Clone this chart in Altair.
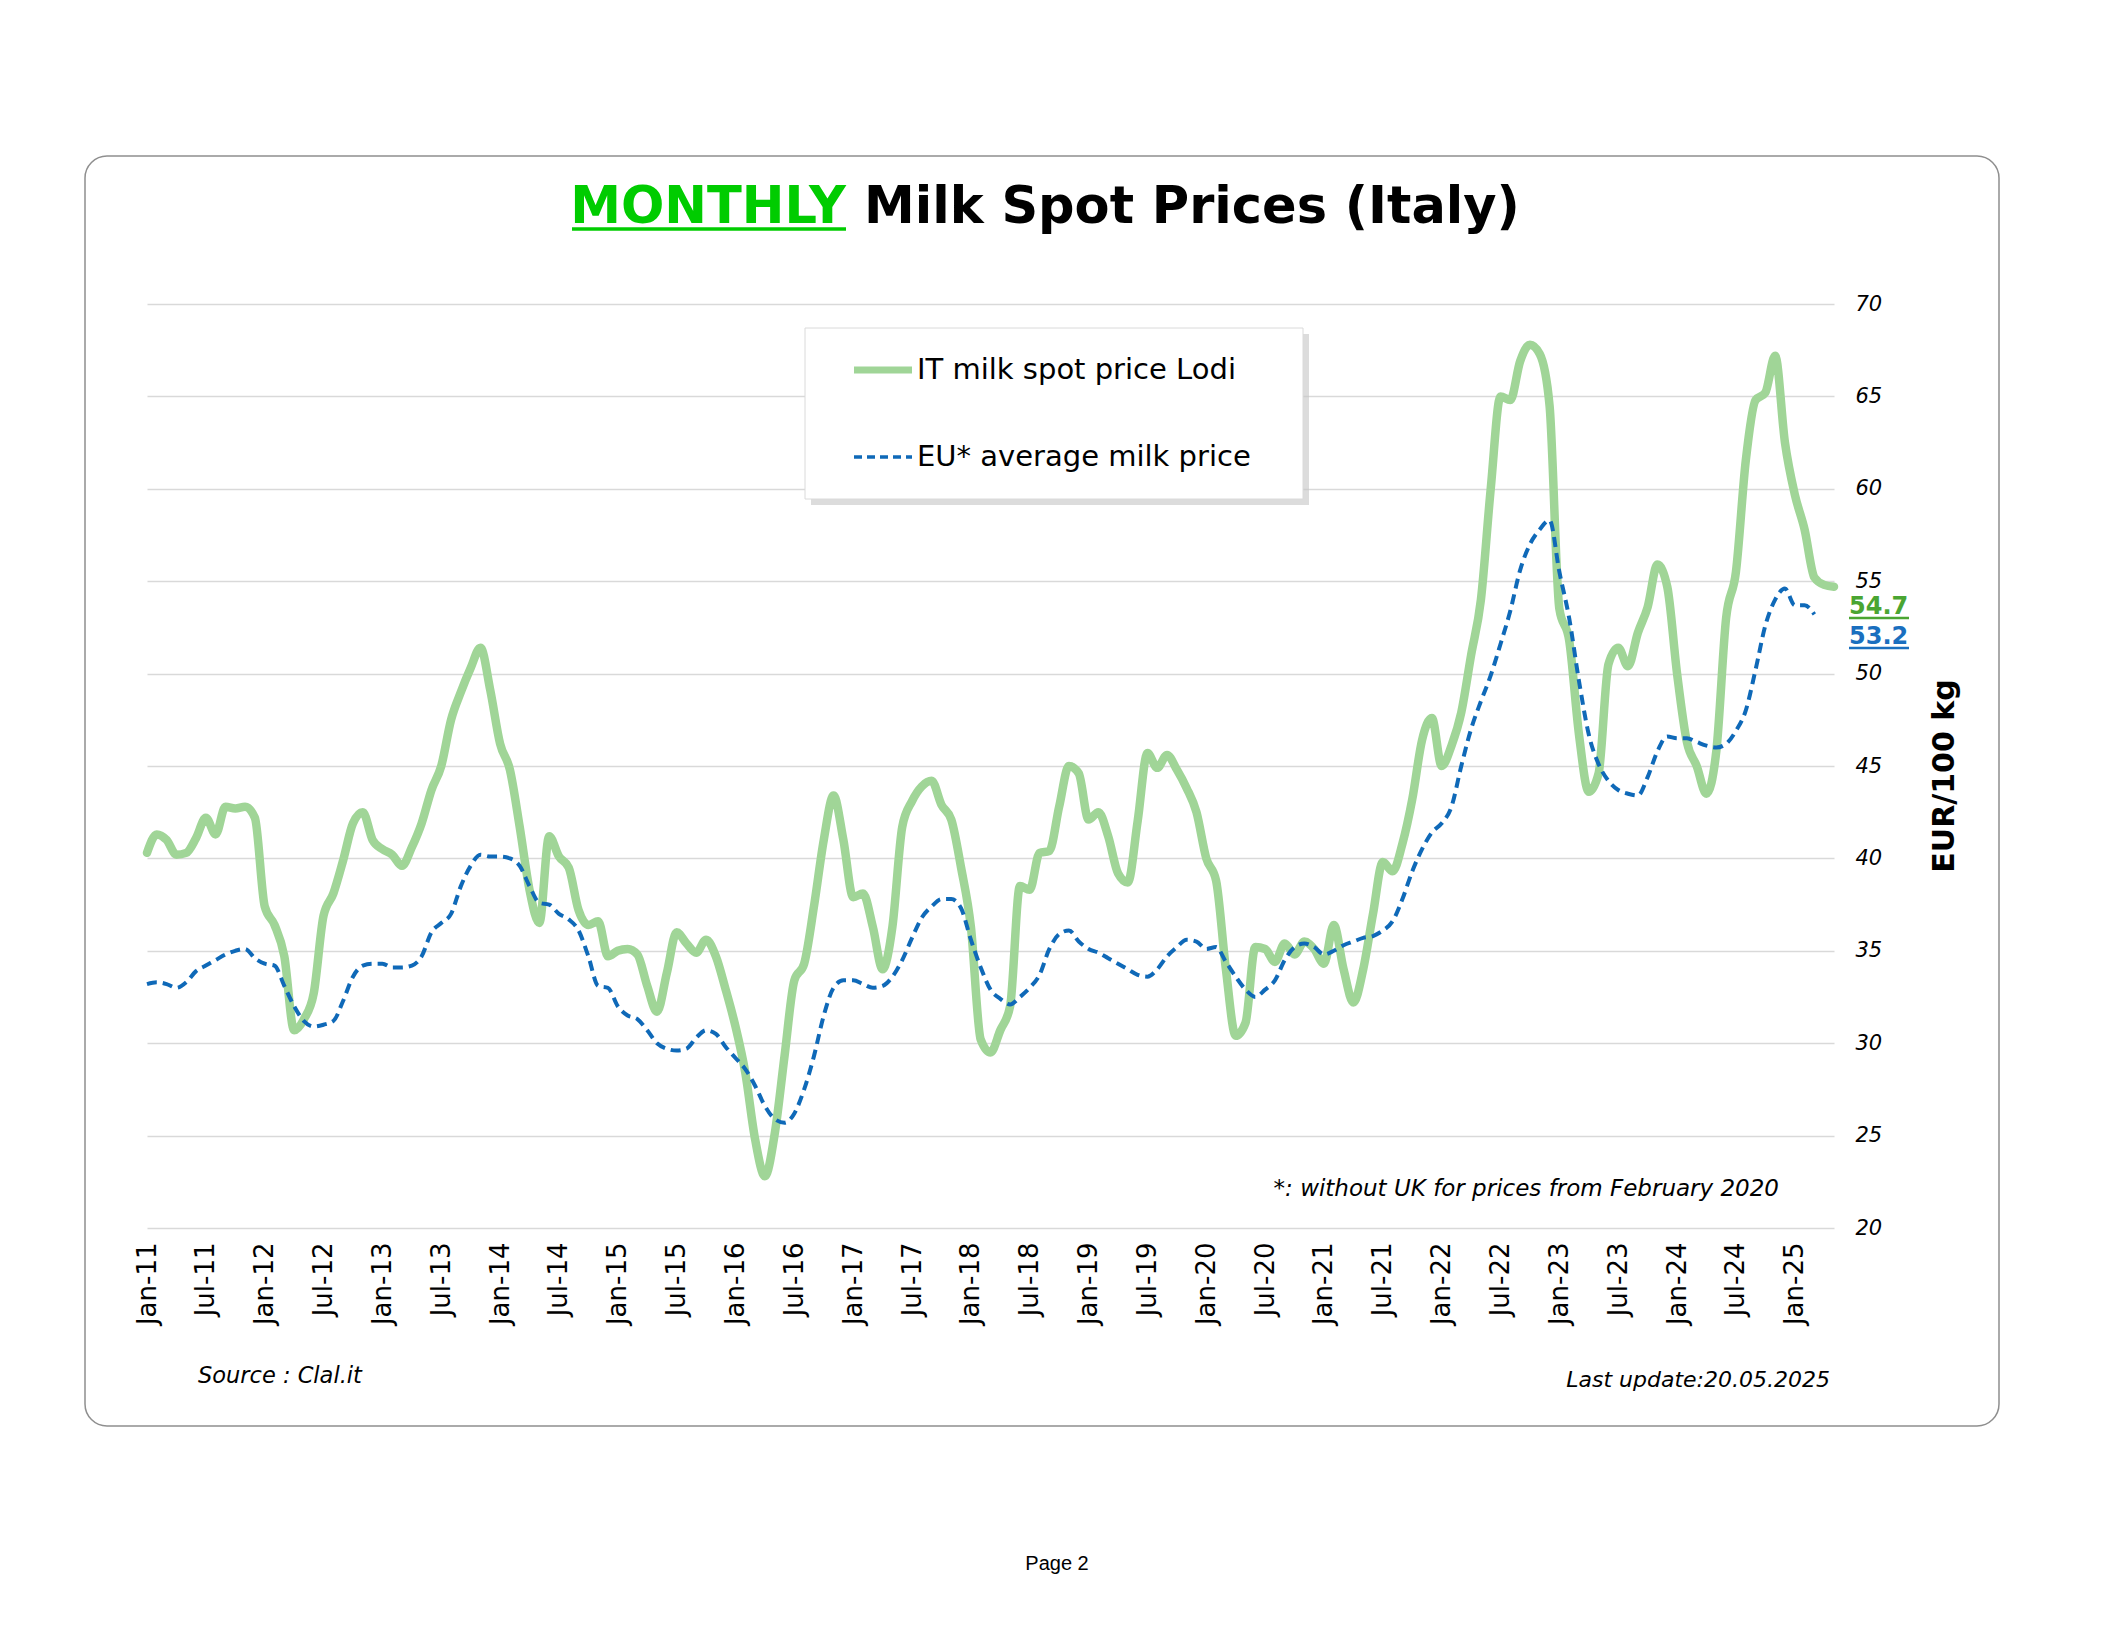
import json
import altair as alt
import pandas as pd

# ---- data (EUR/100 kg, monthly, index 0 = Jan-2011) ----
lodi_2011 = [40.3, 41.3, 41.0, 40.2, 40.3, 41.1, 42.2, 41.3, 42.8, 42.7, 42.8, 42.2]
lodi_2012 = [37.4, 36.4, 34.7, 30.7, 31.3, 32.7, 36.9, 38.1, 39.9, 41.9, 42.5, 41.0]
lodi_2013 = [40.5, 40.2, 39.6, 40.6, 41.9, 43.7, 45.0, 47.5, 49.0, 50.3, 51.4, 49.1]
lodi_2014 = [46.2, 44.8, 41.7, 38.3, 36.5, 41.2, 40.1, 39.5, 37.2, 36.4, 36.6, 34.7]
lodi_2015 = [35.0, 35.1, 34.8, 33.1, 31.7, 33.8, 36.0, 35.4, 34.9, 35.6, 34.7, 32.9]
lodi_2016 = [30.9, 28.4, 24.8, 22.8, 25.1, 29.3, 33.4, 34.3, 37.4, 41.0, 43.4, 41.0]
lodi_2017 = [37.9, 38.1, 36.3, 34.0, 36.3, 41.7, 43.1, 43.9, 44.2, 42.9, 42.1, 39.5]
lodi_2018 = [36.3, 30.2, 29.5, 30.7, 32.0, 38.5, 38.3, 40.3, 40.4, 42.8, 45.0, 44.6]
lodi_2019 = [42.1, 42.5, 41.2, 39.2, 38.7, 42.0, 45.7, 44.9, 45.6, 44.8, 43.8, 42.5]
lodi_2020 = [40.0, 38.8, 34.0, 30.4, 31.1, 35.2, 35.1, 34.4, 35.4, 34.8, 35.5, 35.1]
lodi_2021 = [34.3, 36.4, 34.0, 32.2, 34.0, 37.0, 39.8, 39.3, 40.8, 43.2, 46.4, 47.6]
lodi_2022 = [45.0, 46.1, 47.9, 51.0, 54.0, 60.0, 65.0, 64.8, 66.9, 67.8, 67.3, 64.5]
lodi_2023 = [53.5, 51.8, 46.7, 43.6, 44.6, 50.5, 51.4, 50.4, 52.2, 53.6, 55.9, 54.7]
lodi_2024 = [50.0, 46.3, 45.0, 43.5, 45.8, 53.0, 55.5, 61.5, 64.8, 65.2, 67.2, 62.5]
lodi_2025 = [59.7, 57.8, 55.2, 54.8, 54.7]

eu_2011 = [33.2, 33.3, 33.2, 33.0, 33.3, 33.9, 34.2, 34.5, 34.8, 35.0, 35.1, 34.6]
eu_2012 = [34.3, 34.2, 33.1, 32.0, 31.2, 30.9, 31.0, 31.2, 32.3, 33.6, 34.2, 34.3]
eu_2013 = [34.3, 34.1, 34.1, 34.2, 34.7, 36.0, 36.5, 37.0, 38.5, 39.6, 40.2, 40.1]
eu_2014 = [40.1, 40.0, 39.6, 38.5, 37.6, 37.5, 37.0, 36.7, 36.1, 34.7, 33.1, 33.0]
eu_2015 = [32.0, 31.5, 31.3, 30.7, 30.0, 29.7, 29.6, 29.7, 30.3, 30.7, 30.5, 29.8]
eu_2016 = [29.2, 28.6, 27.7, 26.6, 25.9, 25.7, 26.2, 27.5, 29.3, 31.5, 33.0, 33.4]
eu_2017 = [33.4, 33.2, 33.0, 33.1, 33.6, 34.5, 35.7, 36.8, 37.4, 37.8, 37.8, 37.3]
eu_2018 = [35.6, 34.1, 32.9, 32.4, 32.1, 32.5, 33.0, 33.7, 35.1, 35.9, 36.1, 35.5]
eu_2019 = [35.1, 34.9, 34.6, 34.3, 34.0, 33.7, 33.6, 34.0, 34.7, 35.2, 35.6, 35.5]
eu_2020 = [35.1, 35.2, 34.4, 33.6, 32.9, 32.5, 32.9, 33.4, 34.5, 35.2, 35.4, 35.2]
eu_2021 = [34.8, 35.0, 35.3, 35.5, 35.7, 35.8, 36.1, 36.6, 37.8, 39.3, 40.5, 41.4]
eu_2022 = [41.9, 42.8, 45.0, 47.0, 48.5, 49.9, 51.6, 53.4, 55.6, 57.0, 57.8, 58.3]
eu_2023 = [55.5, 53.0, 49.6, 46.7, 45.1, 44.2, 43.7, 43.5, 43.4, 44.4, 45.8, 46.6]
eu_2024 = [46.5, 46.5, 46.3, 46.1, 46.0, 46.2, 46.9, 48.0, 50.2, 52.6, 54.0, 54.6]
eu_2025 = [53.7, 53.7, 53.2]

lodi_price = (lodi_2011 + lodi_2012 + lodi_2013 + lodi_2014 + lodi_2015 + lodi_2016 + lodi_2017
              + lodi_2018 + lodi_2019 + lodi_2020 + lodi_2021 + lodi_2022 + lodi_2023 + lodi_2024 + lodi_2025)
eu_price = (eu_2011 + eu_2012 + eu_2013 + eu_2014 + eu_2015 + eu_2016 + eu_2017
            + eu_2018 + eu_2019 + eu_2020 + eu_2021 + eu_2022 + eu_2023 + eu_2024 + eu_2025)

tick_labels = ["Jan-11", "Jul-11", "Jan-12", "Jul-12", "Jan-13", "Jul-13", "Jan-14", "Jul-14",
               "Jan-15", "Jul-15", "Jan-16", "Jul-16", "Jan-17", "Jul-17", "Jan-18", "Jul-18",
               "Jan-19", "Jul-19", "Jan-20", "Jul-20", "Jan-21", "Jul-21", "Jan-22", "Jul-22",
               "Jan-23", "Jul-23", "Jan-24", "Jul-24", "Jan-25"]
y_ticks = [20, 25, 30, 35, 40, 45, 50, 55, 60, 65, 70]

series_names = ["IT milk spot price Lodi", "EU* average milk price"]
last_lodi = "54.7"
last_eu = "53.2"

GREEN_LINE = "#A0D597"
BLUE_LINE = "#0F69B8"
W, H = 1687, 924
FONT = "DejaVu Sans"

df_lodi = pd.DataFrame({"m": list(range(len(lodi_price))), "v": lodi_price})
df_eu = pd.DataFrame({"m": list(range(len(eu_price))), "v": eu_price})

x_enc = alt.X(
    "m:Q",
    scale=alt.Scale(domain=[0, 172], nice=False, zero=False),
    axis=alt.Axis(
        values=list(range(0, 169, 6)),
        labelExpr=f"{json.dumps(tick_labels)}[round(datum.value / 6)]",
        labelAngle=270, labelAlign="right", labelBaseline="middle",
        labelFont=FONT, labelFontSize=26, labelColor="#000000", labelPadding=14,
        domain=False, ticks=False, grid=False, title=None, labelOverlap=False,
    ),
)
y_enc = alt.Y(
    "v:Q",
    scale=alt.Scale(domain=[20, 70], nice=False, zero=False),
    axis=alt.Axis(
        orient="right", values=y_ticks, labelFont=FONT, labelFontSize=21,
        labelFontStyle="italic", labelColor="#000000", labelPadding=21,
        domain=False, ticks=False, grid=True, gridColor="#D9D9D9", gridWidth=1.5,
        title=None,
    ),
)

one = pd.DataFrame({"a": [0]})


def txt(s, x, y, size, color="#000000", weight="normal", style="normal",
        align="left", baseline="alphabetic", font=FONT, angle=0):
    return alt.Chart(pd.DataFrame({"t": [s]})).mark_text(
        align=align, baseline=baseline, fontSize=size, font=font,
        fontWeight=weight, fontStyle=style, color=color, angle=angle,
    ).encode(x=alt.value(x), y=alt.value(y), text="t:N")


def rect(x, x2, y, y2, **kw):
    return alt.Chart(one).mark_rect(**kw).encode(
        x=alt.value(x), x2=alt.value(x2), y=alt.value(y), y2=alt.value(y2))


def hline(x, x2, y, **kw):
    return alt.Chart(one).mark_rule(**kw).encode(
        x=alt.value(x), x2=alt.value(x2), y=alt.value(y))


border = rect(-62, 1852, -148, 1122, fillOpacity=0, stroke="#8F8F8F",
              strokeWidth=1.5, cornerRadius=22)

green_line = alt.Chart(df_lodi).mark_line(
    color=GREEN_LINE, strokeWidth=8.5, interpolate="monotone", strokeCap="round"
).encode(x=x_enc, y=y_enc)

blue_line = alt.Chart(df_eu).mark_line(
    color=BLUE_LINE, strokeWidth=4, interpolate="monotone", strokeDash=[10, 6]
).encode(x="m:Q", y="v:Q")

legend_shadow = rect(664, 1162, 30, 201, fill="#C4C4C4", fillOpacity=0.6, strokeWidth=0)
legend_box = rect(658, 1156, 24, 195, fill="#FFFFFF", stroke="#DADADA", strokeWidth=1)
legend_g = hline(707, 765, 66, color=GREEN_LINE, strokeWidth=7)
legend_b = hline(707, 765, 153, color=BLUE_LINE, strokeWidth=3.5, strokeDash=[8, 5])
legend_gt = txt(series_names[0], 770, 66, 29, baseline="middle")
legend_bt = txt(series_names[1], 770, 153, 29, baseline="middle")

title_green = txt("MONTHLY", 699, -81, 51, color="#00CC00", weight="bold", align="right")
title_black = txt("Milk Spot Prices (Italy)", 717, -81, 51, weight="bold")
title_ul = hline(425, 699, -75, color="#00CC00", strokeWidth=3.5)

val_g = txt(last_lodi, 1702, 310, 24, color="#4AA532", weight="bold")
val_g_ul = hline(1702, 1762, 314, color="#4AA532", strokeWidth=2.5)
val_b = txt(last_eu, 1702, 340, 24, color="#1A6FBF", weight="bold")
val_b_ul = hline(1702, 1762, 344, color="#1A6FBF", strokeWidth=2.5)

y_title = txt("EUR/100 kg", 1798, 472, 30, weight="bold", align="center",
              baseline="middle", angle=270)
footnote = txt("*: without UK for prices from February 2020", 1632, 892, 23,
               style="italic", align="right")
source = txt("Source : Clal.it", 51, 1079, 22.5, style="italic")
update = txt("Last update:20.05.2025", 1683, 1083, 22, style="italic", align="right")
page = txt("Page 2", 910, 1266, 20, align="center", font="Liberation Sans")

chart = alt.layer(
    border, green_line, blue_line,
    legend_shadow, legend_box, legend_g, legend_b, legend_gt, legend_bt,
    title_green, title_black, title_ul,
    val_g, val_g_ul, val_b, val_b_ul,
    y_title, footnote, source, update, page,
).properties(
    width=W, height=H,
    autosize=alt.AutoSizeParams(type="none"),
    padding={"left": 139, "top": 296, "right": 274, "bottom": 399},
    background="#FFFFFF",
).configure_view(strokeWidth=0)

chart.save("out.html", embed_options={"renderer": "svg", "actions": False})
